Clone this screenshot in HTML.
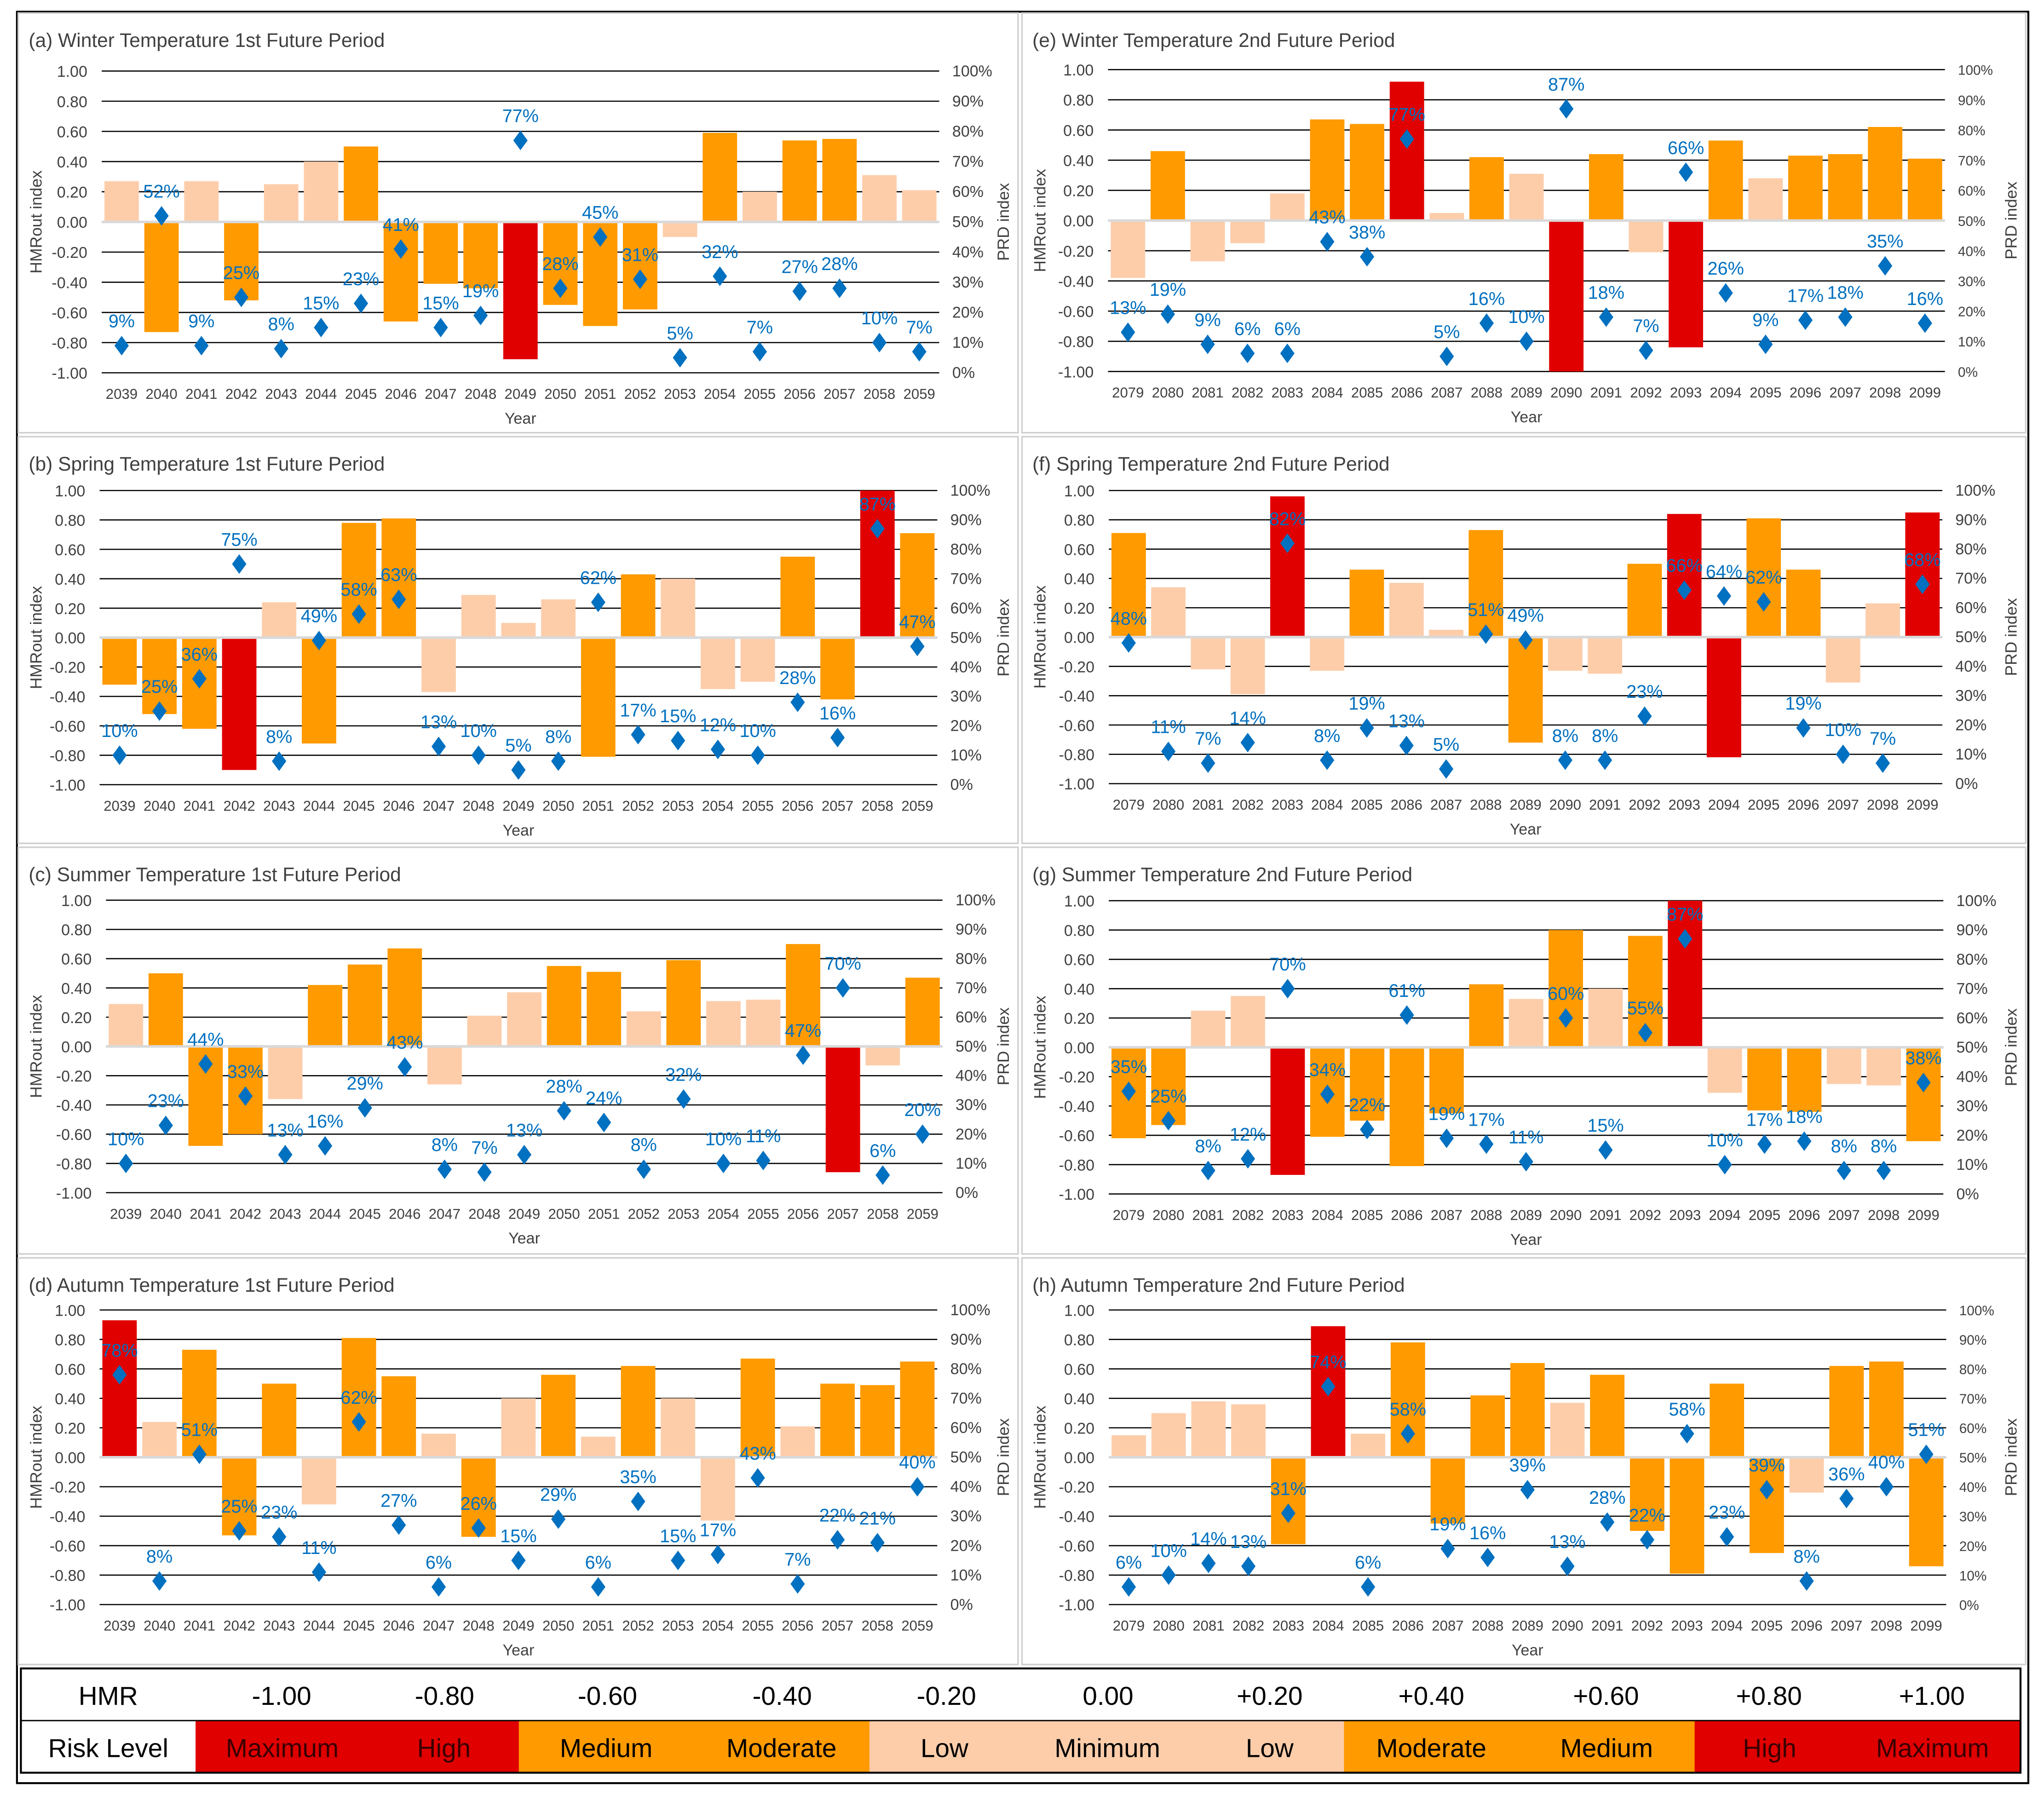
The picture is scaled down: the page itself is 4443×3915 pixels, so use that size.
<!DOCTYPE html>
<html><head><meta charset="utf-8"><style>
html,body{margin:0;padding:0;background:#fff;}
svg{display:block;}
text{font-family:"Liberation Sans",sans-serif;}
</style></head><body>
<svg id="fig" xmlns="http://www.w3.org/2000/svg" width="4443" height="3915" viewBox="0 0 1568 1381.7">
<rect x="0" y="0" width="1568" height="1382" fill="#fff"/>
<rect x="13" y="9" width="1543" height="1359" fill="none" stroke="#000" stroke-width="1.5"/>
<g id="panels"></g>
<g id="legend"></g>
</svg>
<script>
const years1 = [2039,2040,2041,2042,2043,2044,2045,2046,2047,2048,2049,2050,2051,2052,2053,2054,2055,2056,2057,2058,2059];
const years2 = [2079,2080,2081,2082,2083,2084,2085,2086,2087,2088,2089,2090,2091,2092,2093,2094,2095,2096,2097,2098,2099];

const hmrA = [0.27,-0.73,0.27,-0.52,0.25,0.40,0.50,-0.66,-0.41,-0.44,-0.91,-0.55,-0.69,-0.58,-0.10,0.59,0.20,0.54,0.55,0.31,0.21];
const riskA = ['L','O','L','O','L','L','O','O','O','O','R','O','O','O','L','O','L','O','O','L','L'];
const prdA = [9,52,9,25,8,15,23,41,15,19,77,28,45,31,5,32,7,27,28,10,7];

const hmrE = [-0.38,0.46,-0.27,-0.15,0.18,0.67,0.64,0.92,0.05,0.42,0.31,-1.00,0.44,-0.21,-0.84,0.53,0.28,0.43,0.44,0.62,0.41];
const riskE = ['L','O','L','L','L','O','O','R','L','O','L','R','O','L','R','O','L','O','O','O','O'];
const prdE = [13,19,9,6,6,43,38,77,5,16,10,87,18,7,66,26,9,17,18,35,16];

const hmrB = [-0.32,-0.52,-0.62,-0.90,0.24,-0.72,0.78,0.81,-0.37,0.29,0.10,0.26,-0.81,0.43,0.40,-0.35,-0.30,0.55,-0.42,1.00,0.71];
const riskB = ['O','O','O','R','L','O','O','O','L','L','L','L','O','O','L','L','L','O','O','R','O'];
const prdB = [10,25,36,75,8,49,58,63,13,10,5,8,62,17,15,12,10,28,16,87,47];

const hmrF = [0.71,0.34,-0.22,-0.39,0.96,-0.23,0.46,0.37,0.05,0.73,-0.72,-0.23,-0.25,0.50,0.84,-0.82,0.81,0.46,-0.31,0.23,0.85];
const riskF = ['O','L','L','L','R','L','O','L','L','O','O','L','L','O','R','R','O','O','L','L','R'];
const prdF = [48,11,7,14,82,8,19,13,5,51,49,8,8,23,66,64,62,19,10,7,68];

const hmrC = [0.29,0.50,-0.68,-0.60,-0.36,0.42,0.56,0.67,-0.26,0.21,0.37,0.55,0.51,0.24,0.59,0.31,0.32,0.70,-0.86,-0.13,0.47];
const riskC = ['L','O','O','O','L','O','O','O','L','L','L','O','O','L','O','L','L','O','R','L','O'];
const prdC = [10,23,44,33,13,16,29,43,8,7,13,28,24,8,32,10,11,47,70,6,20];

const hmrG = [-0.62,-0.53,0.25,0.35,-0.87,-0.61,-0.50,-0.81,-0.45,0.43,0.33,0.80,0.40,0.76,1.00,-0.31,-0.43,-0.44,-0.25,-0.26,-0.64];
const riskG = ['O','O','L','L','R','O','O','O','O','O','L','O','L','O','R','L','O','O','L','L','O'];
const prdG = [35,25,8,12,70,34,22,61,19,17,11,60,15,55,87,10,17,18,8,8,38];

const hmrD = [0.93,0.24,0.73,-0.53,0.50,-0.32,0.81,0.55,0.16,-0.54,0.40,0.56,0.14,0.62,0.40,-0.43,0.67,0.21,0.50,0.49,0.65];
const riskD = ['R','L','O','O','O','L','O','O','L','O','L','O','L','O','L','L','O','L','O','O','O'];
const prdD = [78,8,51,25,23,11,62,27,6,26,15,29,6,35,15,17,43,7,22,21,40];

const hmrH = [0.15,0.30,0.38,0.36,-0.59,0.89,0.16,0.78,-0.45,0.42,0.64,0.37,0.56,-0.50,-0.79,0.50,-0.65,-0.24,0.62,0.65,-0.74];
const riskH = ['L','L','L','L','O','R','L','O','O','O','O','L','O','O','O','O','O','L','O','O','O'];
const prdH = [6,10,14,13,31,74,6,58,19,16,39,13,28,22,58,23,39,8,36,40,51];

const leftTicks = ['1.00','0.80','0.60','0.40','0.20','0.00','-0.20','-0.40','-0.60','-0.80','-1.00'];
const rightTicks = ['100%','90%','80%','70%','60%','50%','40%','30%','20%','10%','0%'];

const legendHMR = ['-1.00','-0.80','-0.60','-0.40','-0.20','0.00','+0.20','+0.40','+0.60','+0.80','+1.00'];
const legendRisk = ['Maximum','High','Medium','Moderate','Low','Minimum','Low','Moderate','Medium','High','Maximum'];
const legendRiskCat = ['R','R','O','O','L','L','L','O','O','R','R'];

const COL = {L:'#FDCDAA', O:'#FF9A00', R:'#E00000'};
const NS = 'http://www.w3.org/2000/svg';
function mk(tag, attrs, parent, txt){
  const e = document.createElementNS(NS, tag);
  for (const k in attrs) e.setAttribute(k, attrs[k]);
  if (txt !== undefined) e.textContent = txt;
  parent.appendChild(e);
  return e;
}

const panels = [
  {id:'a', title:'(a) Winter Temperature 1st Future Period', yrs:years1, hmr:hmrA, risk:riskA, prd:prdA, box:[14,10,767,322], x0:78, x1:720.5, yt:54.5, yb:286, small:false},
  {id:'e', title:'(e) Winter Temperature 2nd Future Period', yrs:years2, hmr:hmrE, risk:riskE, prd:prdE, box:[784,10,770,322], x0:850, x1:1492, yt:53.4, yb:285, small:true},
  {id:'b', title:'(b) Spring Temperature 1st Future Period', yrs:years1, hmr:hmrB, risk:riskB, prd:prdB, box:[14,335,767,312], x0:76.4, x1:719, yt:376.3, yb:602, small:false},
  {id:'f', title:'(f) Spring Temperature 2nd Future Period', yrs:years2, hmr:hmrF, risk:riskF, prd:prdF, box:[784,335,770,312], x0:850.6, x1:1490, yt:376.3, yb:601.2, small:false},
  {id:'c', title:'(c) Summer Temperature 1st Future Period', yrs:years1, hmr:hmrC, risk:riskC, prd:prdC, box:[14,650,767,312], x0:81.3, x1:723, yt:690.6, yb:915, small:false},
  {id:'g', title:'(g) Summer Temperature 2nd Future Period', yrs:years2, hmr:hmrG, risk:riskG, prd:prdG, box:[784,650,770,312], x0:850.6, x1:1490.8, yt:691, yb:916, small:false},
  {id:'d', title:'(d) Autumn Temperature 1st Future Period', yrs:years1, hmr:hmrD, risk:riskD, prd:prdD, box:[14,965,767,312], x0:76.4, x1:719, yt:1005, yb:1231, small:false},
  {id:'h', title:'(h) Autumn Temperature 2nd Future Period', yrs:years2, hmr:hmrH, risk:riskH, prd:prdH, box:[784,965,770,312], x0:850.6, x1:1493, yt:1005, yb:1231, small:true}
];

const root = document.getElementById('panels');
panels.forEach(p => {
  const g = mk('g', {}, root);
  
  
  const b = p.box;
  const fr = mk('rect', {x:b[0], y:b[1], width:b[2], height:b[3], fill:'#fff', stroke:'#d0d0d0', 'stroke-width':1.2}, g);
  
  
  const t = mk('text', {x:b[0]+8, y:b[1]+26, 'font-size':15, fill:'#404040'}, g, p.title);
  
  

  const n = p.yrs.length;
  const band = (p.x1 - p.x0) / n;
  const xc = i => p.x0 + band * (i + 0.5);
  const yH = v => p.yt + (1 - v) / 2 * (p.yb - p.yt);
  const yP = v => p.yb - v / 100 * (p.yb - p.yt);

  leftTicks.forEach((lab, i) => {
    const y = p.yt + i * (p.yb - p.yt) / 10;
    const gl = mk('line', {x1:p.x0, x2:p.x1, y1:y, y2:y, stroke:'#000', 'stroke-width':0.9}, g);
    
    
    const lt = mk('text', {x:p.x0-11, y:y+4.5, 'font-size':12, fill:'#404040', 'text-anchor':'end'}, g, lab);
    
    
    const rt = mk('text', {x:p.x1+10, y:y+4, 'font-size':p.small?10.5:12, fill:'#404040'}, g, rightTicks[i]);
    
    
  });

  p.hmr.forEach((v, i) => {
    const y0 = yH(0), y1 = yH(v);
    const r = mk('rect', {x:xc(i)-13.2, y:Math.min(y0,y1), width:26.4, height:Math.max(1,Math.abs(y1-y0)), fill:COL[p.risk[i]]}, g);
    
    
  });
  const zl = mk('line', {x1:p.x0, x2:p.x1, y1:yH(0), y2:yH(0), stroke:'#d9d9d9', 'stroke-width':2}, g);
  
  

  p.prd.forEach((v, i) => {
    const x = xc(i), y = yP(v);
    const d = mk('polygon', {points:`${x},${y-7.5} ${x+5.5},${y} ${x},${y+7.5} ${x-5.5},${y}`, fill:'#0070C0'}, g);
    
    
    const l = mk('text', {x:x, y:y-14, 'font-size':14, fill:'#0070C0', 'text-anchor':'middle'}, g, v + '%');
    
    
  });

  p.yrs.forEach((yr, i) => {
    const xt = mk('text', {x:xc(i), y:p.yb+20, 'font-size':11, fill:'#404040', 'text-anchor':'middle'}, g, yr);
    
    
  });
  const xa = mk('text', {x:(p.x0+p.x1)/2, y:p.yb+39, 'font-size':12, fill:'#404040', 'text-anchor':'middle'}, g, 'Year');
  
  
  const ym = (p.yt + p.yb) / 2;
  const ya = mk('text', {x:0, y:0, 'font-size':12.5, fill:'#404040', 'text-anchor':'middle', transform:`translate(${b[0]+18},${ym}) rotate(-90)`}, g, 'HMRout index');
  
  
  const ya2 = mk('text', {x:0, y:0, 'font-size':12.5, fill:'#404040', 'text-anchor':'middle', transform:`translate(${b[0]+b[2]-7},${ym}) rotate(-90)`}, g, 'PRD index');
  
  
});

// legend
const lg = document.getElementById('legend');
const L0 = 16, L1 = 1550, T0 = 1280, T1 = 1320, T2 = 1360;
const cellEdges = [150,283,398,532,667,782,917,1031,1165,1300,1415,1550];
const hmrCenters = [216,341,466,600,726,850,974,1098,1232,1357,1482];
const hmrLab = mk('text', {x:83, y:T0+28, 'font-size':20, fill:'#000', 'text-anchor':'middle'}, lg, 'HMR');


legendHMR.forEach((v, i) => {
  const t = mk('text', {x:hmrCenters[i], y:T0+28, 'font-size':20, fill:'#000', 'text-anchor':'middle'}, lg, v);
  
  
});
const rl = mk('text', {x:83, y:T1+28, 'font-size':20, fill:'#000', 'text-anchor':'middle'}, lg, 'Risk Level');


legendRisk.forEach((v, i) => {
  const xa = cellEdges[i], xb = cellEdges[i+1];
  const c = mk('rect', {x:xa, y:T1, width:xb-xa+0.5, height:T2-T1, fill:COL[legendRiskCat[i]]}, lg);
  
  
  const t = mk('text', {x:(xa+xb)/2, y:T1+28, 'font-size':20, fill: legendRiskCat[i]==='R' ? '#3a0000' : '#000', 'text-anchor':'middle'}, lg, v);
  
  
});
mk('rect', {x:L0, y:T0, width:L1-L0, height:T2-T0, fill:'none', stroke:'#000', 'stroke-width':1.5}, lg);
mk('line', {x1:L0, x2:L1, y1:T1, y2:T1, stroke:'#000', 'stroke-width':1}, lg);
</script>
</body></html>
